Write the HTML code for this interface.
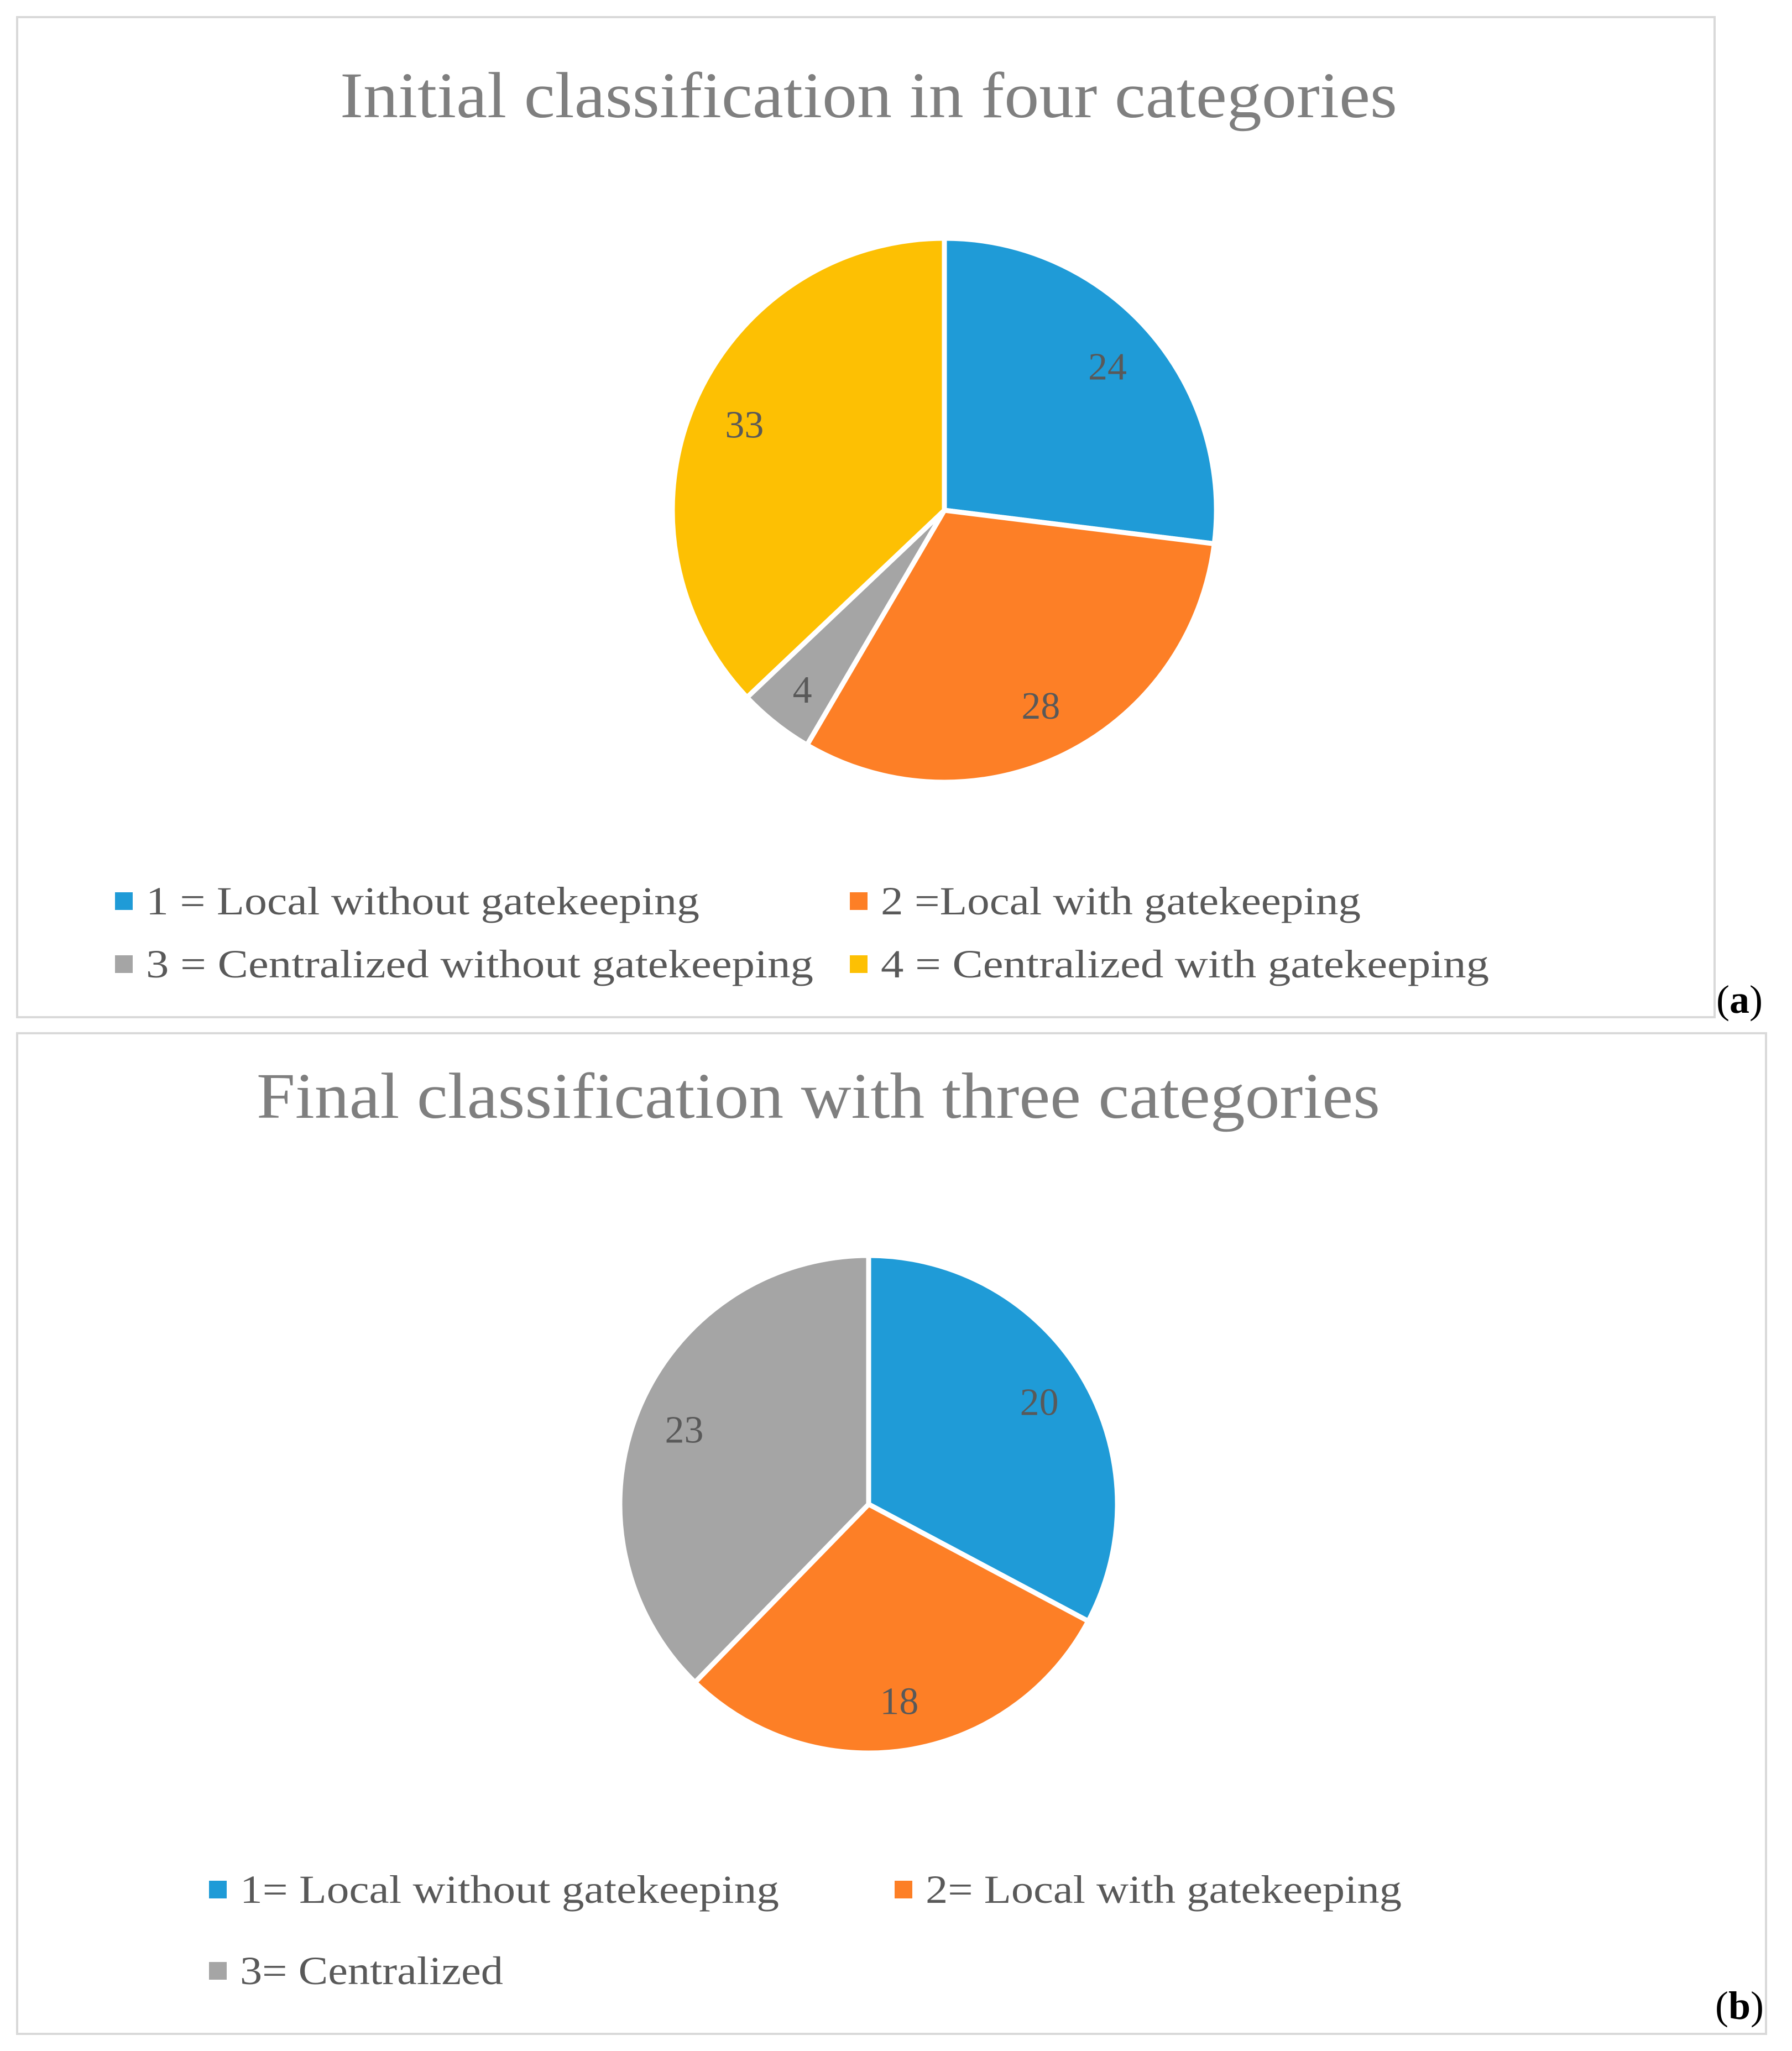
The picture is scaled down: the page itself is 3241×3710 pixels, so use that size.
<!DOCTYPE html>
<html><head><meta charset="utf-8"><style>
body{margin:0;background:#fff;}
svg{display:block;font-family:"Liberation Serif",serif;}
</style></head><body>
<svg id="s" width="3241" height="3710" viewBox="0 0 3241 3710">
<rect x="31" y="31" width="3070" height="1809" fill="#fff" stroke="#d9d9d9" stroke-width="4"/>
<rect x="31" y="1869" width="3163" height="1810" fill="#fff" stroke="#d9d9d9" stroke-width="4"/>
<text x="615" y="212" font-size="118" fill="#7f7f7f" textLength="1912" lengthAdjust="spacingAndGlyphs">Initial classification  in four categories</text>
<text x="464" y="2022" font-size="118" fill="#7f7f7f" textLength="2032" lengthAdjust="spacingAndGlyphs">Final classification  with three categories</text>
<g id="pa"></g><g id="pb"></g>
<text x="3146" y="1832" font-size="72" fill="#000" text-anchor="middle">(<tspan font-weight="bold">a</tspan>)</text>
<text x="3146" y="3652" font-size="72" fill="#000" text-anchor="middle">(<tspan font-weight="bold">b</tspan>)</text>
</svg>
<script>
const catsA=["1 = Local without gatekeeping","2 =Local with gatekeeping","3 = Centralized without gatekeeping","4 = Centralized with gatekeeping"];
const valsA=[24,28,4,33];
const catsB=["1= Local without gatekeeping","2= Local with gatekeeping","3= Centralized"];
const valsB=[20,18,23];
const colsA=["#1f9bd7","#fd7f26","#a5a5a5","#fdc003"];
const colsB=["#1f9bd7","#fd7f26","#a5a5a5"];
const NS="http://www.w3.org/2000/svg";
function mk(t,a,p){const e=document.createElementNS(NS,t);for(const k in a)e.setAttribute(k,a[k]);p.appendChild(e);return e;}
function pie(g,vals,cols,cx,cy,r){
  const tot=vals.reduce((a,b)=>a+b,0);let a0=0;
  vals.forEach((v,i)=>{
    const a1=a0+v/tot*2*Math.PI;
    const x0=cx+r*Math.sin(a0),y0=cy-r*Math.cos(a0),x1=cx+r*Math.sin(a1),y1=cy-r*Math.cos(a1);
    const p=mk("path",{d:`M${cx},${cy}L${x0},${y0}A${r},${r} 0 ${a1-a0>Math.PI?1:0} 1 ${x1},${y1}Z`,fill:cols[i],stroke:"#fff","stroke-width":9,"stroke-linejoin":"round"},g);
    
    
    const m=(a0+a1)/2,lr=v/tot<0.08?0.84:0.8;
    const t=mk("text",{x:cx+lr*r*Math.sin(m),y:cy-lr*r*Math.cos(m)+24,"font-size":70,fill:"#595959","text-anchor":"middle"},g);
    t.textContent=v;
    
    
    a0=a1;
  });
}
function legend(g,cats,cols,pos,lens){
  cats.forEach((c,i)=>{
    const [x,y]=pos[i];
    const r=mk("rect",{x:x-16,y:y-16,width:32,height:32,fill:cols[i]},g);
    
    
    const t=mk("text",{x:x+40,y:y+24,"font-size":72,fill:"#595959",textLength:lens[i],lengthAdjust:"spacingAndGlyphs"},g);
    t.textContent=c;
    
    
  });
}
const pa=document.getElementById("pa"),pb=document.getElementById("pb");
pie(pa,valsA,colsA,1708,923,492);
pie(pb,valsB,colsB,1571,2721,450);
legend(pa,catsA,colsA,[[224,1630],[1553,1630],[224,1744],[1553,1744]],[1001,868,1207,1100]);
legend(pb,catsB,colsB,[[394,3418],[1634,3418],[394,3565]],[975,861,476]);
</script>
</body></html>
